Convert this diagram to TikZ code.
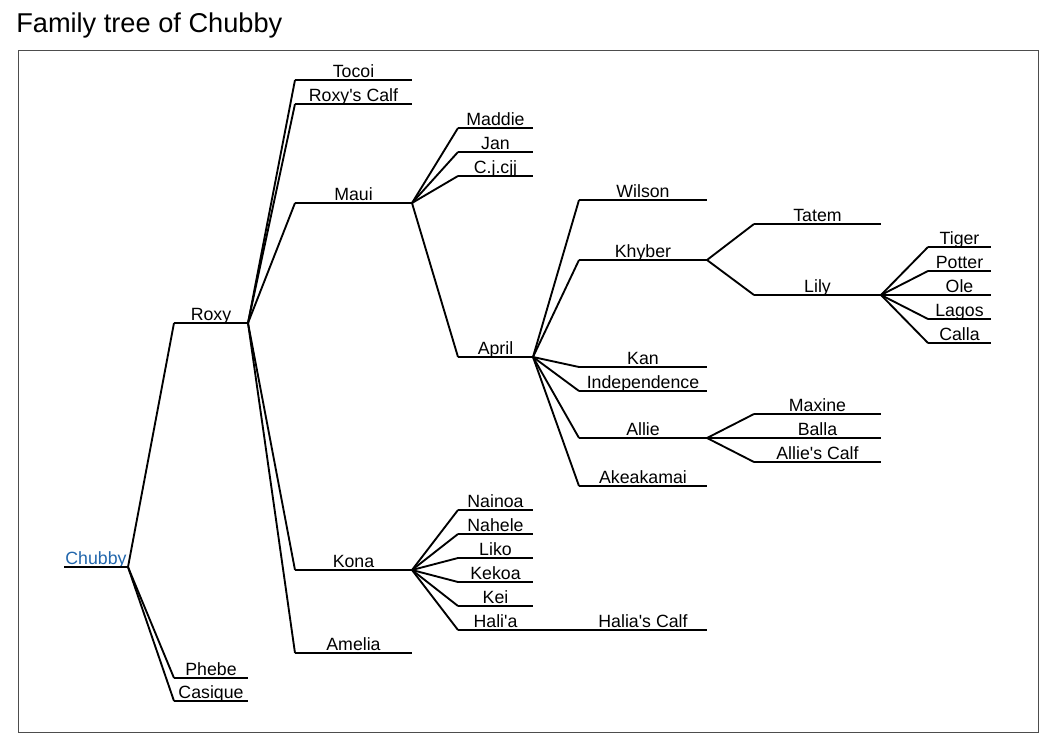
\documentclass[tikz,border=0pt]{standalone}
\usepackage{fontspec}
\setmainfont{Liberation Sans}[Ligatures=TeXOff]
\usepackage{tikz}
\usetikzlibrary{positioning}
\definecolor{treeblue}{RGB}{33,102,172}
\definecolor{framegray}{RGB}{77,77,77}

\begin{document}
\begin{tikzpicture}[
    x=0.75pt, y=-0.75pt,
    % Define styles
    member/.style={anchor=south west, inner xsep=0pt, inner ysep=2.2pt, outer sep=0pt, text depth=0pt},
    gen0/.style={member, minimum width=48pt},
    gen1/.style={member, minimum width=55.5pt},
    gen2/.style={member, minimum width=87.75pt},
    gen3/.style={member, minimum width=56.25pt},
    gen4/.style={member, minimum width=96pt},
    gen5/.style={member, minimum width=95.25pt},
    gen6/.style={member, minimum width=47.25pt},
    link/.style={line width=1.4pt, black},
    % Font
    font=\fontsize{13.3}{16}\selectfont
]
\useasboundingbox (0,0) rectangle (1050,750);

% Title and frame
\node[anchor=base west, inner sep=0pt, font=\fontsize{20.4}{24}\selectfont] (title) at (16,32) {Family tree of Chubby};
\draw[framegray, line width=0.75pt] (18,50) rectangle (1038,732);

% Root
\node[gen0, text=treeblue] (chubby) at (64,567) {Chubby};

% Children of Chubby
\node[gen1] (roxy) at (174,323) {Roxy};
\node[gen1] (phebe) at (174,678) {Phebe};
\node[gen1] (casique) at (174,701) {Casique};

% Children of Roxy
\node[gen2] (tocoi) at (295,80) {Tocoi};
\node[gen2] (roxycalf) at (295,104) {Roxy's Calf};
\node[gen2] (maui) at (295,203) {Maui};
\node[gen2] (kona) at (295,570) {Kona};
\node[gen2] (amelia) at (295,653) {Amelia};

% Children of Maui and Kona
\node[gen3] (maddie) at (458,128) {Maddie};
\node[gen3] (jan) at (458,152) {Jan};
\node[gen3] (cjcjj) at (458,176) {C.j.cjj};
\node[gen3] (april) at (458,357) {April};
\node[gen3] (nainoa) at (458,510) {Nainoa};
\node[gen3] (nahele) at (458,534) {Nahele};
\node[gen3] (liko) at (458,558) {Liko};
\node[gen3] (kekoa) at (458,582) {Kekoa};
\node[gen3] (kei) at (458,606) {Kei};
\node[gen3] (halia) at (458,630) {Hali'a};

% Children of April and Hali'a
\node[gen4] (wilson) at (579,200) {Wilson};
\node[gen4] (khyber) at (579,260) {Khyber};
\node[gen4] (kan) at (579,367) {Kan};
\node[gen4] (independence) at (579,391) {Independence};
\node[gen4] (allie) at (579,438) {Allie};
\node[gen4] (akeakamai) at (579,486) {Akeakamai};
\node[gen4] (haliacalf) at (579,630) {Halia's Calf};

% Children of Khyber and Allie
\node[gen5] (tatem) at (754,224) {Tatem};
\node[gen5] (lily) at (754,295) {Lily};
\node[gen5] (maxine) at (754,414) {Maxine};
\node[gen5] (balla) at (754,438) {Balla};
\node[gen5] (alliecalf) at (754,462) {Allie's Calf};

% Children of Lily
\node[gen6] (tiger) at (928,247) {Tiger};
\node[gen6] (potter) at (928,271) {Potter};
\node[gen6] (ole) at (928,295) {Ole};
\node[gen6] (lagos) at (928,319) {Lagos};
\node[gen6] (calla) at (928,343) {Calla};

% Base lines under the names
\foreach \n in {chubby,roxy,phebe,casique,tocoi,roxycalf,maui,kona,amelia,
    maddie,jan,cjcjj,april,nainoa,nahele,liko,kekoa,kei,halia,
    wilson,khyber,kan,independence,allie,akeakamai,haliacalf,
    tatem,lily,maxine,balla,alliecalf,tiger,potter,ole,lagos,calla}
    \draw[link] (\n.south west) -- (\n.south east);

% Parent - child connections
\foreach \p/\c in {chubby/roxy,chubby/phebe,chubby/casique,
    roxy/tocoi,roxy/roxycalf,roxy/maui,roxy/kona,roxy/amelia,
    maui/maddie,maui/jan,maui/cjcjj,maui/april,
    kona/nainoa,kona/nahele,kona/liko,kona/kekoa,kona/kei,kona/halia,
    april/wilson,april/khyber,april/kan,april/independence,april/allie,april/akeakamai,
    halia/haliacalf,khyber/tatem,khyber/lily,
    allie/maxine,allie/balla,allie/alliecalf,
    lily/tiger,lily/potter,lily/ole,lily/lagos,lily/calla}
    \draw[link] (\p.south east) -- (\c.south west);

\end{tikzpicture}
\end{document}
